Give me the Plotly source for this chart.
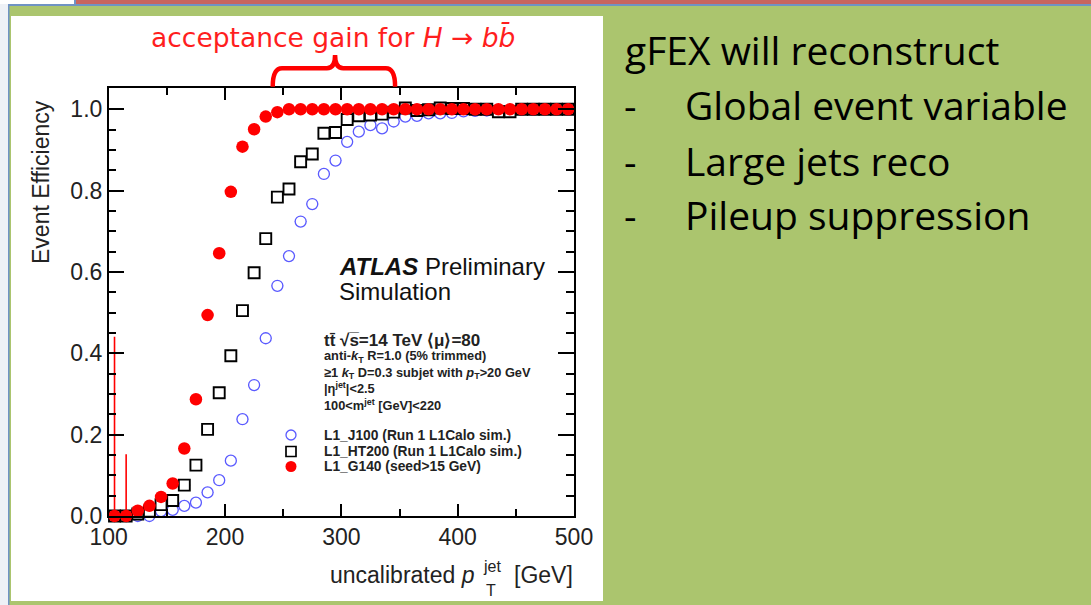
import plotly.graph_objects as go

W, H = 1091, 605


def px(x):
    return x / W


def py(y):
    return 1 - y / H


# ---------------- data ----------------
pt = [105, 115, 125, 135, 145, 155, 165, 175, 185, 195,
      205, 215, 225, 235, 245, 255, 265, 275, 285, 295,
      305, 315, 325, 335, 345, 355, 365, 375, 385, 395,
      405, 415, 425, 435, 445, 455, 465, 475, 485, 495]

eff_j100 = [0.0, 0.0, 0.0, 0.0, 0.012, 0.015, 0.025, 0.033, 0.058, 0.088,
            0.136, 0.238, 0.322, 0.437, 0.566, 0.639, 0.724, 0.767, 0.841, 0.874,
            0.920, 0.945, 0.961, 0.953, 0.970, 0.982, 0.984, 0.990, 0.990, 0.991,
            0.995, 0.996, 0.997, 0.998, 0.998, 0.999, 0.999, 1.0, 1.0, 1.0]

eff_ht200 = [0.0, 0.0, 0.005, 0.012, 0.028, 0.038, 0.076, 0.125, 0.213, 0.303,
             0.394, 0.505, 0.598, 0.682, 0.784, 0.804, 0.871, 0.890, 0.941, 0.943,
             0.975, 0.984, 0.986, 0.988, 0.993, 1.003, 0.997, 0.999, 1.003, 1.002,
             1.002, 1.0, 1.0, 0.994, 0.994, 1.0, 1.0, 1.0, 1.0, 1.0]

eff_g140 = [0.0, 0.0, 0.013, 0.025, 0.047, 0.080, 0.166, 0.287, 0.494, 0.646,
            0.797, 0.908, 0.951, 0.982, 0.993, 1.0, 1.0, 1.0, 1.0, 1.0,
            1.0, 1.0, 1.0, 1.0, 1.0, 1.0, 1.0, 1.0, 1.0, 1.0,
            1.0, 1.0, 1.0, 1.0, 1.0, 1.0, 1.0, 1.0, 1.0, 1.0]

err_g140_up = [0.441, 0.152, 0, 0, 0, 0, 0, 0, 0, 0,
               0, 0, 0, 0, 0, 0, 0, 0, 0, 0,
               0, 0, 0, 0, 0, 0, 0, 0, 0, 0,
               0, 0, 0, 0, 0, 0, 0, 0, 0, 0]

series_names = ["L1_J100 (Run 1 L1Calo sim.)",
                "L1_HT200 (Run 1 L1Calo sim.)",
                "L1_G140 (seed>15 GeV)"]

x_ticks = [100, 200, 300, 400, 500]
y_ticks = [0.0, 0.2, 0.4, 0.6, 0.8, 1.0]

# gain region indicated by the brace (GeV)
gain_lo, gain_mid, gain_hi = 241, 294.6, 346.2

BLUE = "#5a5aff"
RED = "#ff0000"
BLACK = "#000000"
GREEN = "#abc56e"
ROOTFONT = "Liberation Sans, Arial, sans-serif"
TXT = "#222222"

fig = go.Figure()

fig.add_trace(go.Scatter(
    x=pt, y=eff_j100, mode="markers", name=series_names[0],
    marker=dict(symbol="circle", size=11, color="white",
                line=dict(color=BLUE, width=1.3)),
    error_x=dict(type="constant", value=5, width=0, thickness=1, color=BLUE),
    cliponaxis=False, showlegend=False))

fig.add_trace(go.Scatter(
    x=pt, y=eff_ht200, mode="markers", name=series_names[1],
    marker=dict(symbol="square", size=11, color="white",
                line=dict(color=BLACK, width=1.9)),
    error_x=dict(type="constant", value=5, width=0, thickness=1.2, color=BLACK),
    cliponaxis=False, showlegend=False))

fig.add_trace(go.Scatter(
    x=pt, y=eff_g140, mode="markers", name=series_names[2],
    marker=dict(symbol="circle", size=12.5, color=RED, line=dict(width=0)),
    error_x=dict(type="constant", value=5, width=0, thickness=1, color=RED),
    error_y=dict(type="data", symmetric=False, array=err_g140_up,
                 arrayminus=[0.0] * len(pt), width=0, thickness=1.6, color=RED),
    cliponaxis=False, showlegend=False))

shapes = [
    # slide decorations
    dict(type="rect", xref="paper", yref="paper", x0=0, x1=px(8), y0=0, y1=1,
         fillcolor="#eef1f6", line=dict(width=0), layer="below"),
    dict(type="rect", xref="paper", yref="paper", x0=px(8), x1=px(9.5), y0=0, y1=py(4),
         fillcolor="#6f93c4", line=dict(width=0), layer="below"),
    dict(type="rect", xref="paper", yref="paper", x0=px(76), x1=1, y0=py(4), y1=1,
         fillcolor="#c8655f", line=dict(width=0), layer="below"),
    dict(type="rect", xref="paper", yref="paper", x0=0, x1=px(74), y0=py(4), y1=1,
         fillcolor="#ffffff", line=dict(width=0), layer="below"),
    dict(type="rect", xref="paper", yref="paper", x0=px(74), x1=px(76), y0=py(4), y1=1,
         fillcolor="#6f93c4", line=dict(width=0), layer="below"),
    dict(type="rect", xref="paper", yref="paper", x0=px(8), x1=1, y0=py(6), y1=py(4),
         fillcolor="#6f93c4", line=dict(width=0), layer="below"),
    # white picture area
    dict(type="rect", xref="paper", yref="paper", x0=px(11), x1=px(603), y0=py(601), y1=py(16),
         fillcolor="#ffffff", line=dict(width=0), layer="below"),
    # brace
    dict(type="path", xref="x", yref="paper",
         path=(f"M {gain_lo},{py(86.7)} Q {gain_lo},{py(68.3)} {gain_lo + 8},{py(68.3)} "
               f"L {gain_mid - 7},{py(68.3)} Q {gain_mid},{py(68.3)} {gain_mid},{py(55)} "
               f"Q {gain_mid},{py(68.3)} {gain_mid + 7},{py(68.3)} "
               f"L {gain_hi - 8},{py(68.3)} Q {gain_hi},{py(68.3)} {gain_hi},{py(86.7)}"),
         line=dict(color=RED, width=4.5), layer="above"),
    # legend symbols
    dict(type="circle", xref="paper", yref="paper", x0=px(286), x1=px(296), y0=py(440), y1=py(430),
         line=dict(color=BLUE, width=1.3), fillcolor="rgba(0,0,0,0)", layer="above"),
    dict(type="rect", xref="paper", yref="paper", x0=px(286), x1=px(296), y0=py(456.5), y1=py(446.5),
         line=dict(color=BLACK, width=1.7), fillcolor="rgba(0,0,0,0)", layer="above"),
    dict(type="circle", xref="paper", yref="paper", x0=px(285.5), x1=px(296.5), y0=py(472), y1=py(461),
         line=dict(color=RED, width=0), fillcolor=RED, layer="above"),
]

ann = []


def A(text, x, y, size, color=TXT, family=ROOTFONT, xanchor="left", yanchor="middle", angle=0):
    ann.append(dict(text=text, x=px(x), y=py(y), xref="paper", yref="paper",
                    showarrow=False, xanchor=xanchor, yanchor=yanchor, textangle=angle,
                    align="left",
                    font=dict(size=size, color=color, family=family)))


# top title
A("acceptance gain for <i>H</i> → <i>b</i><i>b\u0304</i>", 333, 37, 26.5, color="#ff1e1e",
  family="DejaVu Sans, sans-serif", xanchor="center")

# axis titles
A("Event Efficiency", 41, 182, 23, xanchor="center", angle=-90)
A("uncalibrated <i>p</i>", 477, 575, 23, xanchor="right")
A("jet", 481, 566, 16, xanchor="left")
A("T", 484, 590, 16, xanchor="left")
A("[GeV]", 575, 575, 23, xanchor="right")

# ATLAS label
A("<b><i>ATLAS</i></b> Preliminary", 337, 266, 24, color="#111111")
A("Simulation", 337, 291, 24, color="#111111")

# info block
A("<b>tt\u0304 √s\u0305=14 TeV ⟨μ⟩=80</b>", 322, 340, 17)
A("<b>anti-<i>k</i><sub>T</sub> R=1.0 (5% trimmed)</b><br>"
  "<b>≥1 <i>k</i><sub>T</sub> D=0.3 subjet with <i>p</i><sub>T</sub>>20 GeV</b><br>"
  "<b>|η<sup>jet</sup>|<2.5</b><br>"
  "<b>100<m<sup>jet</sup> [GeV]<220</b>", 322, 380, 12.8)

# legend text
A("<b>" + series_names[0] + "</b>", 322, 435, 13.8)
A("<b>" + series_names[1] + "</b>", 322, 451, 13.8)
A("<b>" + series_names[2] + "</b>", 322, 466, 13.8)

# slide text
SLIDE = "Open Sans, Noto Sans, sans-serif"
A("gFEX will reconstruct", 623, 50, 39, color="#000000", family=SLIDE)
for yy, t in [(105, "Global event variable"), (160, "Large jets reco"), (215, "Pileup suppression")]:
    A("-", 622, yy, 39, color="#000000", family=SLIDE)
    A(t, 683, yy, 39, color="#000000", family=SLIDE)

axis_common = dict(showline=True, linecolor=BLACK, linewidth=1.5, mirror="ticks",
                   ticks="inside", tickcolor=BLACK, tickwidth=1.5,
                   showgrid=False, zeroline=False, automargin=False,
                   tickfont=dict(family=ROOTFONT, size=23, color=TXT))

fig.update_layout(
    width=W, height=H, margin=dict(l=0, r=0, t=0, b=0, autoexpand=False),
    paper_bgcolor=GREEN, plot_bgcolor="white",
    xaxis=dict(domain=[px(108.7), px(574)], range=[100, 500],
               tickvals=x_ticks, ticktext=[str(v) for v in x_ticks], ticklen=12,
               minor=dict(dtick=50, ticklen=7, ticks="inside", tickcolor=BLACK, tickwidth=1.5),
               **axis_common),
    yaxis=dict(domain=[py(516), py(88.3)], range=[0, 1.0516],
               tickvals=y_ticks, ticktext=[f"{v:.1f}" for v in y_ticks], ticklen=16,
               minor=dict(dtick=0.05, ticklen=8, ticks="inside", tickcolor=BLACK, tickwidth=1.5),
               **axis_common),
    shapes=shapes, annotations=ann, showlegend=False,
)

fig.write_html("out.html")
